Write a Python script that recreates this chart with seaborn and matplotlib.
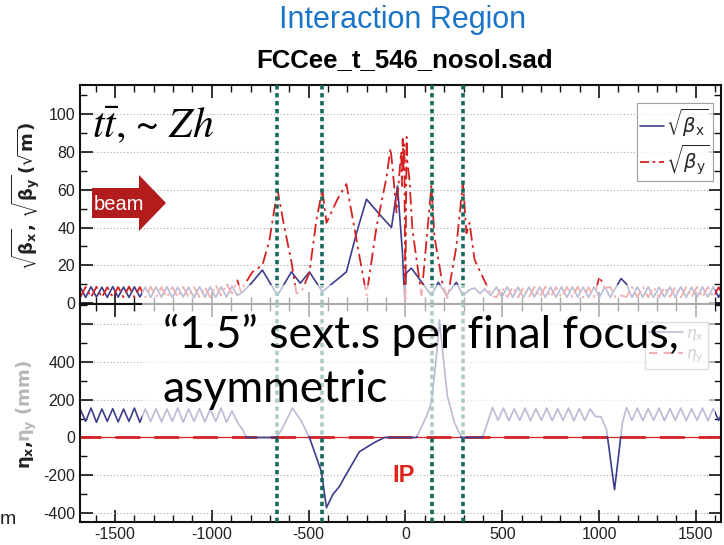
import matplotlib
matplotlib.use('Agg')
import numpy as np
import pandas as pd
import seaborn as sns
import matplotlib.pyplot as plt
from matplotlib.patches import Rectangle, Polygon
from matplotlib.lines import Line2D
from matplotlib.ticker import MultipleLocator

# ---------------- data ----------------
s_arc_left = [-1680, -1652, -1624, -1596, -1568, -1540, -1512, -1484, -1456, -1428,
              -1400, -1372, -1344, -1316, -1288, -1260, -1232, -1204, -1176, -1148,
              -1120, -1092, -1064, -1036, -1008, -980, -952, -924, -896, -868]
bx_arc_left = [8.5, 3.0, 8.6, 3.2, 8.4, 3.0, 8.7, 3.1, 8.5, 3.0, 8.6, 3.2, 8.4, 3.0, 8.5,
               3.1, 8.6, 3.0, 8.4, 3.2, 8.5, 3.0, 8.7, 3.1, 8.5, 3.0, 8.6, 3.2, 9.0, 4.0]
by_arc_left = [3.0, 8.5, 3.1, 8.6, 3.0, 8.4, 3.2, 8.5, 3.0, 8.7, 3.1, 8.5, 3.0, 8.6, 3.2,
               8.4, 3.0, 8.5, 3.1, 8.6, 3.0, 8.4, 3.2, 8.5, 3.0, 9.5, 4.0, 10.0, 5.0, 12.0]

s_bx_ir = [-840, -800, -739, -661, -589, -543, -496, -429, -305, -253, -201, -134, -72, -41,
           -15, -5, 5, 31, 88, 134, 170, 212, 263, 297, 331, 357, 385, 410, 440]
bx_ir = [6, 10, 17.5, 4, 16.5, 10.5, 16.5, 6, 16.5, 37, 55, 47, 40, 62, 26, 3, 16, 18.5,
         10.5, 4, 11, 4, 11, 4, 7, 8, 5, 7.5, 4]

s_by_ir = [-850, -830, -790, -739, -703, -661, -625, -589, -563, -537, -496, -460, -429, -408,
           -351, -305, -264, -201, -150, -98, -77, -67, -46, -31, -22, -18, -14, -10, -6, -3,
           0, 3, 6, 10, 21, 36, 83, 114, 134, 150, 191, 217, 263, 297, 315, 331, 357, 382,
           419, 445]
by_ir = [6, 10, 16.5, 20, 33, 60, 40, 22, 5, 6, 16, 44, 60, 42.5, 55, 63, 40, 4, 40, 66.5,
         82, 72, 48, 69, 80, 62, 87, 70, 84, 40, 2, 50, 88, 75, 65, 39, 4, 39, 62, 35,
         10.5, 2.7, 30, 64, 37, 42.5, 23, 17.5, 9.5, 4]

s_arc_right = [470, 498, 526, 554, 582, 610, 638, 666, 694, 722, 750, 778, 806, 834, 862,
               890, 918, 946, 974, 1002, 1030, 1058, 1086, 1114, 1142, 1170, 1198, 1226,
               1254, 1282, 1310, 1338, 1366, 1394, 1422, 1450, 1478, 1506, 1534, 1562,
               1590, 1618, 1646]
bx_arc_right = [8.5, 3.0, 8.6, 3.1, 8.4, 3.0, 8.5, 3.2, 8.6, 3.0, 8.4, 3.1, 8.5, 3.0, 8.6,
                3.2, 8.4, 3.0, 8.5, 3.1, 8.6, 3.0, 8.0, 13.0, 10.0, 3.0, 8.5, 3.1, 8.6, 3.0,
                8.4, 3.2, 8.5, 3.0, 8.6, 3.1, 8.4, 3.0, 8.5, 3.2, 8.6, 3.0, 8.5]
by_arc_right = [3.0, 8.5, 3.1, 8.6, 3.0, 8.4, 3.2, 8.5, 3.0, 8.6, 3.1, 8.4, 3.0, 8.5, 3.2,
                8.6, 3.0, 8.4, 3.1, 14.0, 8.0, 8.5, 3.0, 4.0, 3.2, 8.5, 3.0, 8.6, 3.1, 8.4,
                3.0, 8.5, 3.2, 8.6, 3.0, 8.4, 3.1, 8.5, 3.0, 8.6, 3.2, 8.4, 3.0]

eta_arc_left = [150, 85, 155, 80, 150, 85, 152, 82, 150, 85, 155, 80, 150, 85, 152,
                82, 150, 85, 155, 80, 150, 85, 152, 82, 150, 85, 155, 80, 140, 80]
s_eta_ir = [-840, -822, -667, -640, -584, -540, -496, -434, -408, -375, -341, -315, -238,
            -160, -108, 57, 108, 134, 160, 176, 191, 217, 253, 289, 398]
eta_ir = [40, 0, 0, 40, 155, 90, 0, -180, -370, -300, -258, -210, -75, -26, 0, 0, 110, 184,
          426, 620, 463, 216, 79, 0, 0]
s_eta_arc_right1 = [450, 478, 506, 534, 562, 590, 618, 646, 674, 702, 730, 758, 786, 814,
                    842, 870, 898, 926, 954, 982]
eta_arc_right1 = [158, 90, 155, 88, 152, 90, 155, 88, 152, 90, 155, 88, 152, 90, 155, 88,
                  152, 90, 150, 110]
s_eta_dip = [1010, 1039, 1080, 1121, 1142]
eta_dip = [110, 40, -275, 79, 158]
s_eta_arc_right2 = [1170, 1198, 1226, 1254, 1282, 1310, 1338, 1366, 1394, 1422, 1450, 1478,
                    1506, 1534, 1562, 1590, 1618, 1646]
eta_arc_right2 = [90, 155, 88, 152, 90, 155, 88, 152, 90, 155, 88, 152, 90, 155, 88, 152,
                  90, 155]
s_eta_y = [-1700, 1700]
eta_y = [0, 0]

sextupole_s = [-663, -430, 135, 298]

x_ticks = [-1500, -1000, -500, 0, 500, 1000, 1500]
beta_ticks = [0, 20, 40, 60, 80, 100]
eta_ticks = [-400, -200, 0, 200, 400, 600]
eta_tick_labels = ['-400', '-200', '0', '200', '400', '']

df_bx = pd.DataFrame({'s': s_arc_left + s_bx_ir + s_arc_right,
                      'v': bx_arc_left + bx_ir + bx_arc_right})
df_by = pd.DataFrame({'s': s_arc_left + s_by_ir + s_arc_right,
                      'v': by_arc_left + by_ir + by_arc_right})
df_ex = pd.DataFrame({'s': s_arc_left + s_eta_ir + s_eta_arc_right1 + s_eta_dip + s_eta_arc_right2,
                      'v': eta_arc_left + eta_ir + eta_arc_right1 + eta_dip + eta_arc_right2})
df_ey = pd.DataFrame({'s': s_eta_y, 'v': eta_y})

# ---------------- style ----------------
sns.set_theme(style='ticks')
plt.rcParams['font.family'] = ['Liberation Sans', 'DejaVu Sans']
plt.rcParams['mathtext.fontset'] = 'dejavusans'

W, H = 724, 545
def fx(x): return x / W
def fy(y): return 1 - y / H

NAVY = '#3d3d8e'
RED = '#d42222'
TEAL = '#17695c'
TXT = '#222222'

fig = plt.figure(figsize=(7.24, 5.45), dpi=100)
ax1 = fig.add_axes([fx(80), fy(304), (721 - 80) / W, (304 - 85) / H])
ax2 = fig.add_axes([fx(80), fy(522), (721 - 80) / W, (522 - 304) / H])

sns.lineplot(data=df_bx, x='s', y='v', ax=ax1, color=NAVY, lw=1.2, estimator=None, sort=False)
sns.lineplot(data=df_by, x='s', y='v', ax=ax1, color=RED, lw=1.3, estimator=None, sort=False,
             linestyle=(0, (7, 2.5, 1.5, 2.5)))
ax2.axhline(0, color=RED, lw=0.9, zorder=2)
sns.lineplot(data=df_ey, x='s', y='v', ax=ax2, color=RED, lw=2.0, estimator=None, sort=False,
             linestyle=(0, (9, 5)))
sns.lineplot(data=df_ex, x='s', y='v', ax=ax2, color=NAVY, lw=1.2, estimator=None, sort=False)

for ax in (ax1, ax2):
    for s in sextupole_s:
        ax.axvline(s, color=TEAL, lw=2.6, ls=(0, (1.2, 1.0)), zorder=4)
    ax.set_xlim(-1681, 1630)
    ax.set_xticks(x_ticks)
    ax.xaxis.set_minor_locator(MultipleLocator(100))
    ax.tick_params(which='both', direction='in', top=True, right=True, colors='#111111',
                   labelcolor=TXT, labelsize=11.5)
    ax.tick_params(which='major', length=9, width=1.2)
    ax.tick_params(which='minor', length=5, width=1.0)
    ax.set_xlabel('')
    ax.set_ylabel('')
    for sp in ax.spines.values():
        sp.set_linewidth(1.5)
        sp.set_color('#111111')
    ax.yaxis.grid(True, which='major', ls=(0, (1, 2)), color='#aaaaaa', lw=0.8)

ax1.set_ylim(-0.5, 115.5)
ax1.set_yticks(beta_ticks)
ax1.yaxis.set_minor_locator(MultipleLocator(10))
ax1.tick_params(labelbottom=False)

ax2.set_ylim(-445, 703)
ax2.set_yticks(eta_ticks)
ax2.set_yticklabels(eta_tick_labels)
ax2.yaxis.set_minor_locator(MultipleLocator(100))
ax2.set_xticklabels([str(t) for t in x_ticks])

# legends
h1 = [Line2D([], [], color=NAVY, lw=1.2),
      Line2D([], [], color=RED, lw=1.3, ls=(0, (5, 2, 1.5, 2)))]
lg1 = ax1.legend(h1, [r'$\sqrt{\beta_\mathrm{x}}$', r'$\sqrt{\beta_\mathrm{y}}$'],
                 loc='upper right', bbox_to_anchor=(fx(713), fy(103)),
                 bbox_transform=fig.transFigure, fontsize=14, frameon=True, fancybox=False,
                 edgecolor='#888888', handlelength=1.2, borderpad=0.2, labelspacing=0.15,
                 handletextpad=0.1, borderaxespad=0)
lg1.get_frame().set_linewidth(0.8)
h2 = [Line2D([], [], color=NAVY, lw=1.2),
      Line2D([], [], color=RED, lw=1.5, ls=(0, (4, 3)))]
lg2 = ax2.legend(h2, [r'$\eta_\mathrm{x}$', r'$\eta_\mathrm{y}$'],
                 loc='upper right', bbox_to_anchor=(fx(708), fy(322)),
                 bbox_transform=fig.transFigure, fontsize=11, frameon=True, fancybox=False,
                 edgecolor='#888888', handlelength=2.2, borderpad=0.3, labelspacing=0.3,
                 handletextpad=0.2, borderaxespad=0, labelcolor='#777777')

# y labels
fig.text(fx(26), fy(196), r'$\mathbf{\sqrt{\beta_x},\,\sqrt{\beta_y}\,(\sqrt{m})}$',
         rotation=90, ha='center', va='center', fontsize=13, color=TXT)
fig.text(fx(27), fy(455), r'$\mathbf{\eta_x,}$', rotation=90, ha='center', va='center',
         fontsize=13, color=TXT)
fig.text(fx(27), fy(401), r'$\mathbf{\eta_y\ (mm)}$', rotation=90, ha='center', va='center',
         fontsize=13, color='#b5b5b5')

# fading overlay
fig.add_artist(Rectangle((fx(142), fy(436)), (715 - 142) / W, (436 - 285) / H,
                         transform=fig.transFigure, fc='white', ec='none', alpha=0.65,
                         zorder=5))

# titles
fig.text(fx(403), fy(20), 'Interaction Region', color='#1a74c8', fontsize=22,
         ha='center', va='center')
fig.text(fx(405), fy(60), 'FCCee_t_546_nosol.sad', color='black', fontsize=18.5,
         fontweight='bold', ha='center', va='center')

# annotations
fig.text(fx(92), fy(126), r'$t\bar{t}$, ~ $Zh$', family='STIXGeneral',
         math_fontfamily='stix', fontsize=30, ha='left', va='center', color='black',
         zorder=8)
beam_pts = [(92, 188), (139, 188), (139, 175), (166, 203), (139, 231), (139, 218), (92, 218)]
fig.add_artist(Polygon([(fx(x), fy(y)) for x, y in beam_pts], closed=True,
                       transform=fig.transFigure, fc='#b21c1c', ec='none', zorder=7))
fig.text(fx(119), fy(204), 'beam', color='white', fontsize=14.5, ha='center', va='center',
         zorder=8)
fig.text(fx(163), fy(348), '\u201c1.5\u201d sext.s per final focus,', family='Lato',
         fontsize=32, ha='left', va='baseline', color='black', zorder=8)
fig.text(fx(163), fy(402), 'asymmetric', family='Lato', fontsize=32, ha='left',
         va='baseline', color='black', zorder=8)
fig.text(fx(404), fy(476), 'IP', color='#e2231a', fontweight='bold', fontsize=17,
         ha='center', va='center', zorder=8)
fig.text(fx(0), fy(520), 'm', fontsize=14, color=TXT, ha='left', va='center')

fig.savefig('out.png', dpi=100)
